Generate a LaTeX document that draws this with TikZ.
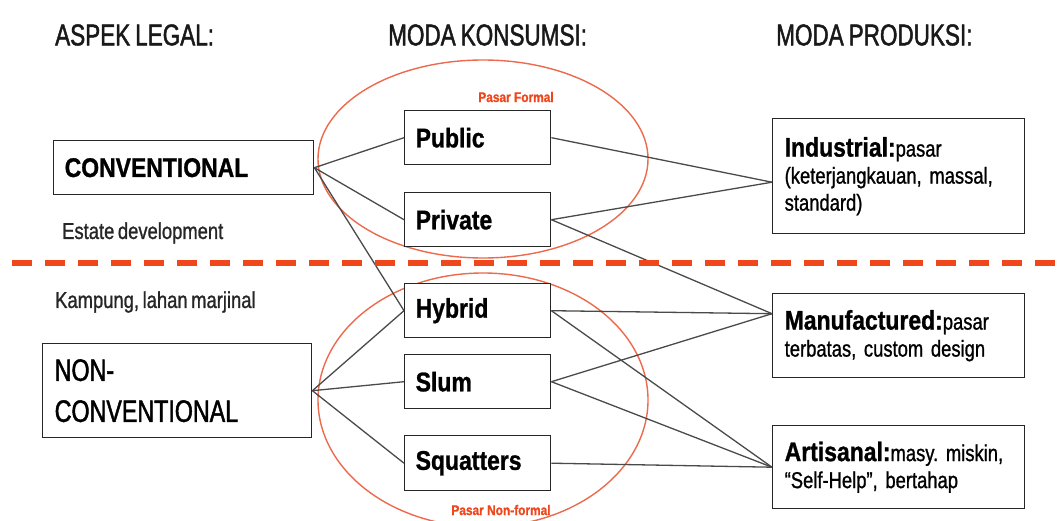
\documentclass[tikz,border=0pt]{standalone}
\usepackage{fontspec}
\setmainfont{Liberation Sans}
\newfontfamily\headfont[FakeStretch=0.75,FakeBold=1.5,WordSpace=0.8]{Liberation Sans}
\newfontfamily\boxfont[FakeStretch=0.85,FakeBold=1]{Liberation Sans}
\newfontfamily\notefont[FakeStretch=0.8,FakeBold=1,WordSpace=0.7]{Liberation Sans}
\definecolor{dashred}{HTML}{F0461C}
\definecolor{ovalred}{HTML}{EE6A4C}
\definecolor{linegray}{HTML}{4A4A4A}
\newcommand{\prodname}[1]{{\boxfont\bfseries\fontsize{27}{30}\selectfont #1}}
\frenchspacing

\begin{document}
\begin{tikzpicture}[x=1pt, y=-1pt,
    box/.style={draw=black!85, line width=1.4pt, fill=white, anchor=north west,
      inner xsep=11pt, inner ysep=0pt, align=left,
      font=\boxfont\bfseries\fontsize{27}{30}\selectfont},
    prod/.style={box, inner xsep=12pt, text width=228pt,
      font=\notefont\fontsize{23}{27}\selectfont\frenchspacing},
    head/.style={anchor=west, inner sep=0pt, text=black!90,
      font=\headfont\fontsize{30}{34}\selectfont},
    note/.style={anchor=west, inner sep=0pt, text=black!85,
      font=\notefont\fontsize{23}{26}\selectfont},
    pasar/.style={inner sep=0pt, text=dashred,
      font=\boxfont\bfseries\fontsize{14}{16}\selectfont},
    link/.style={draw=linegray, line width=1.3pt}]
  \useasboundingbox (0,0) rectangle (1059,521);
  \fill[white] (0,0) rectangle (1059,521);

  % market ovals
  \begin{scope}
    \clip (0,0) rectangle (1059,521);
    \draw[ovalred, line width=1.4pt] (483,159) ellipse [x radius=165pt, y radius=99pt];
    \draw[ovalred, line width=1.4pt] (483,400) ellipse [x radius=165pt, y radius=127pt];
  \end{scope}
  \node[pasar] (pformal) at (516,97) {Pasar Formal};
  \node[pasar] (pnonformal) at (501,510) {Pasar Non-formal};

  % column heads
  \node[head] (hlegal) at (55,35) {ASPEK LEGAL:};
  \node[head] (hkons) at (388,35) {MODA KONSUMSI:};
  \node[head] (hprod) at (776,35) {MODA PRODUKSI:};

  % legal aspect
  \node[box, text width=238pt, minimum height=54pt] (conv) at (53,140) {CONVENTIONAL};
  \node[box, text width=245pt, minimum height=94pt, inner xsep=12pt,
    font=\headfont\fontsize{31}{41}\selectfont] (nonconv) at (42,343) {NON-\\CONVENTIONAL};
  \node[note] (estate) at (62,233) {Estate development};
  \node[note] (kampung) at (55,302) {Kampung, lahan marjinal};

  % consumption
  \node[box, text width=124pt, minimum height=54pt] (pub) at (404,110) {Public};
  \node[box, text width=124pt, minimum height=54pt] (priv) at (404,192) {Private};
  \node[box, text width=124pt, minimum height=54pt] (hyb) at (404,283) {Hybrid};
  \node[box, text width=124pt, minimum height=54pt] (slum) at (404,354) {Slum};
  \node[box, text width=124pt, minimum height=55pt] (squat) at (404,435) {Squatters};

  % production
  \node[prod, minimum height=115pt] (ind) at (772,118)
    {\prodname{Industrial:}pasar\\(keterjangkauan, massal,\\standard)};
  \node[prod, minimum height=84pt] (manu) at (772,293)
    {\prodname{Manufactured:}pasar\\terbatas, custom design};
  \node[prod, minimum height=83pt] (art) at (772,425)
    {\prodname{Artisanal:}masy. miskin,\\“Self-Help”, bertahap};

  % links
  \draw[link] (conv.east) -- (pub.west);
  \draw[link] (conv.east) -- (priv.west);
  \draw[link] (conv.east) -- (hyb.west);
  \draw[link] (nonconv.east) -- (hyb.west);
  \draw[link] (nonconv.east) -- (slum.west);
  \draw[link] (nonconv.east) -- (squat.west);
  \draw[link] (pub.east) -- ([yshift=-6pt]ind.west);
  \draw[link] (priv.east) -- ([yshift=-6pt]ind.west);
  \draw[link] (priv.east) -- ([yshift=22pt]manu.west);
  \draw[link] (hyb.east) -- ([yshift=22pt]manu.west);
  \draw[link] (hyb.east) -- (art.west);
  \draw[link] (slum.east) -- ([yshift=22pt]manu.west);
  \draw[link] (slum.east) -- (art.west);
  \draw[link] (squat.east) -- (art.west);

  % formal / non-formal divide
  \draw[dashred, line width=6pt, dash pattern=on 20pt off 13pt] (12,262.5) -- (1059,262.5);
\end{tikzpicture}
\end{document}
